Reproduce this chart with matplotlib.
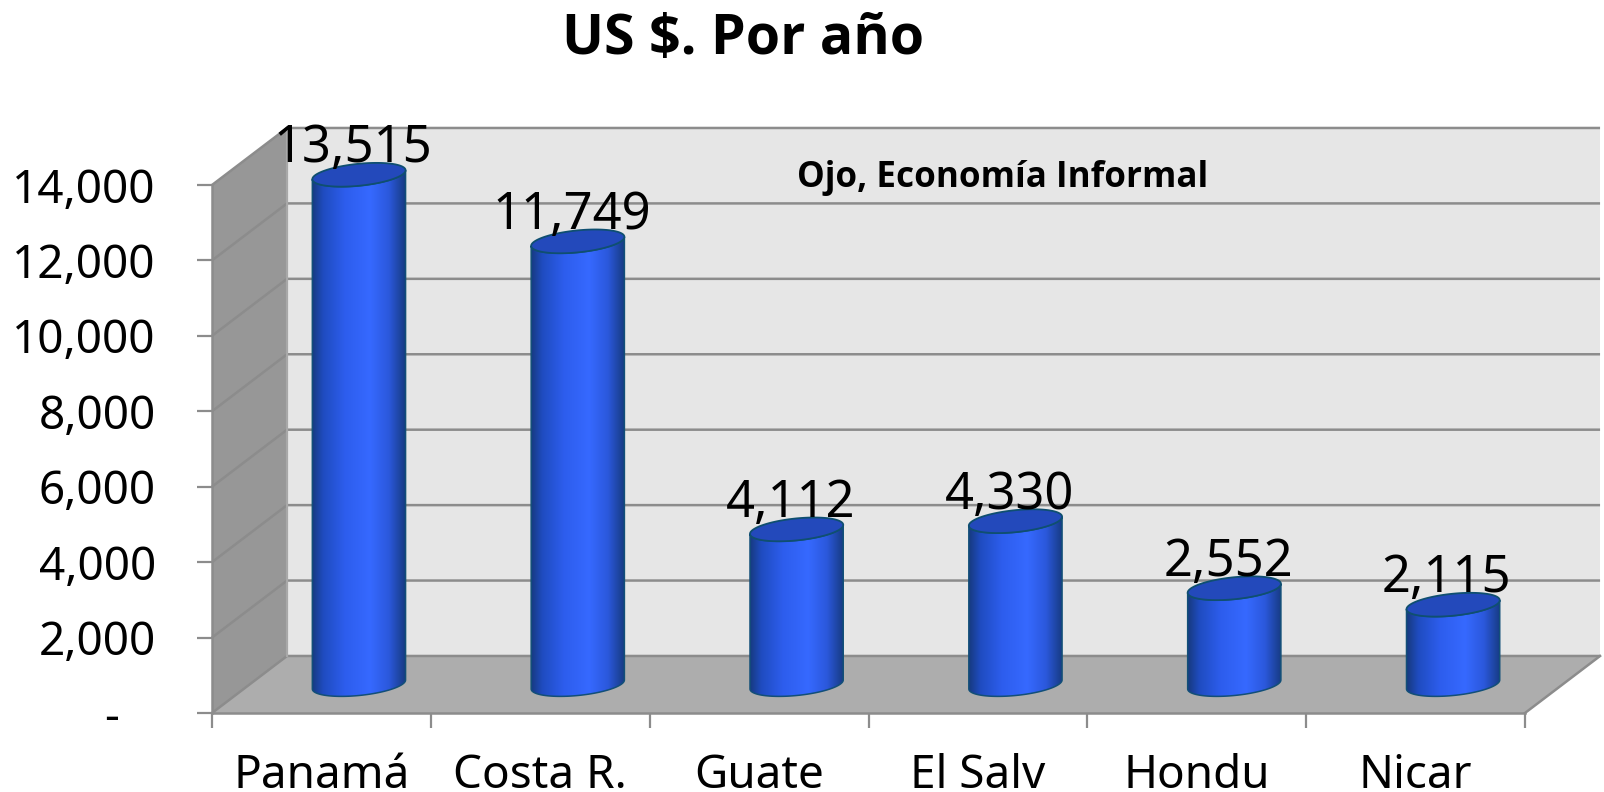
import numpy as np
import matplotlib
matplotlib.use("Agg")
import matplotlib.pyplot as plt
from matplotlib.colors import LinearSegmentedColormap
from matplotlib.path import Path
from matplotlib.patches import PathPatch

categories = ["Panamá", "Costa R.", "Guate", "El Salv", "Hondu", "Nicar"]
values = [13515, 11749, 4112, 4330, 2552, 2115]
y_ticks = [0, 2000, 4000, 6000, 8000, 10000, 12000, 14000]
y_tick_labels = ["-   ", "2,000", "4,000", "6,000", "8,000", "10,000", "12,000", "14,000"]
title = "US $. Por año"
note = "Ojo, Economía Informal"

plt.rcParams["font.family"] = ["Noto Sans", "DejaVu Sans"]
W, H = 1604, 792
fig = plt.figure(figsize=(W / 100, H / 100), dpi=100, facecolor="white")
ax = fig.add_axes([212 / W, 1 - 713 / H, (1525 - 212) / W, (713 - 185) / H])
ax.set_facecolor("none")

n = len(categories)
ymax = y_ticks[-1]
DX, DY = 0.343, 1512          # depth of the 3-D box
HALF, B, SH = 0.213, 292, 119 # cylinder half width, ellipse half height, ellipse shear
GRID = "#8c8c8c"


def poly(xs, ys, color, z):
    ax.fill(xs, ys, color=color, lw=0, zorder=z, clip_on=False)


poly([DX, n + DX, n + DX, DX], [DY, DY, ymax + DY, ymax + DY], "#e6e6e6", 1)
poly([0, DX, DX, 0], [0, DY, ymax + DY, ymax], "#979797", 1)
poly([0, n, n + DX, DX], [0, 0, DY, DY], "#adadad", 1)
for t in y_ticks:
    ax.plot([0, DX, n + DX], [t, t + DY, t + DY], color=GRID, lw=1.8, zorder=2,
            clip_on=False, solid_capstyle="butt", solid_joinstyle="miter")
ax.plot([DX, DX], [DY, ymax + DY], color="#a8a8a8", lw=1.6, zorder=2, clip_on=False)
ax.plot([n, n + DX], [0, DY], color=GRID, lw=1.8, zorder=2, clip_on=False)

cmap = LinearSegmentedColormap.from_list(
    "cyl", [(0, "#173a80"), (0.12, "#1f4cc0"), (0.35, "#2d5ded"), (0.62, "#3669ff"),
            (0.82, "#2b58dc"), (1, "#163a80")])
t_arc = np.linspace(0, np.pi, 60)
for i, v in enumerate(values):
    cx = i + 0.5 + DX / 2
    base, top = DY / 2, v + DY / 2
    x_arc = cx + HALF * np.cos(t_arc)
    shear = SH * np.cos(t_arc)
    lower = -B * np.sin(t_arc)
    # side of the cylinder: top rim from left to right, then bottom rim back
    xs = np.r_[x_arc[::-1], x_arc]
    ys = np.r_[top + (shear + lower)[::-1], base + shear + lower]
    outline = Path(np.c_[np.r_[xs, xs[0]], np.r_[ys, ys[0]]])
    im = ax.imshow(np.linspace(0, 1, 256)[None, :], cmap=cmap, aspect="auto",
                   extent=(cx - HALF, cx + HALF, base - 2 * B, top + 2 * B),
                   zorder=3, interpolation="bilinear")
    im.set_clip_box(fig.bbox)
    im.set_clip_path(outline, ax.transData)
    ax.add_patch(PathPatch(outline, fc="none", ec="#124f78", lw=1.1, zorder=4, clip_on=False))
    t_full = np.linspace(0, 2 * np.pi, 120)
    ax.fill(cx + HALF * np.cos(t_full),
            top + SH * np.cos(t_full) + B * np.sin(t_full),
            fc="#2349bb", ec="#0f4f70", lw=1.3, zorder=5, clip_on=False)
    ax.annotate(f"{v:,}", xy=(cx, top), xytext=(-4.5, 9), textcoords="offset points",
                ha="center", va="baseline", fontsize=36.5, color="black",
                zorder=6, annotation_clip=False)

ax.set_xlim(0, n)
ax.set_ylim(0, ymax)
for s in ("top", "right"):
    ax.spines[s].set_visible(False)
for s in ("left", "bottom"):
    ax.spines[s].set_color(GRID)
    ax.spines[s].set_linewidth(1.8)
    ax.spines[s].set_zorder(2.5)
ax.set_yticks(y_ticks, y_tick_labels)
ax.set_xticks(range(n + 1), [""] * (n + 1))
ax.set_xticks(np.arange(n) + 0.5, categories, minor=True)
ax.tick_params(axis="both", which="major", length=10.5, width=1.6, color=GRID)
ax.tick_params(axis="x", which="minor", length=0, pad=29, labelsize=33)
ax.tick_params(axis="y", labelsize=33, pad=30)

ax.text(3.613, ymax + 190, note, fontsize=25.2, fontweight="bold", ha="center", va="center",
        zorder=6, family="Open Sans")
fig.text(743 / W, 1 - 39 / H, title, fontsize=40, fontweight="bold", ha="center", va="center",
         family="Open Sans")
fig.savefig("out.png", dpi=100)
